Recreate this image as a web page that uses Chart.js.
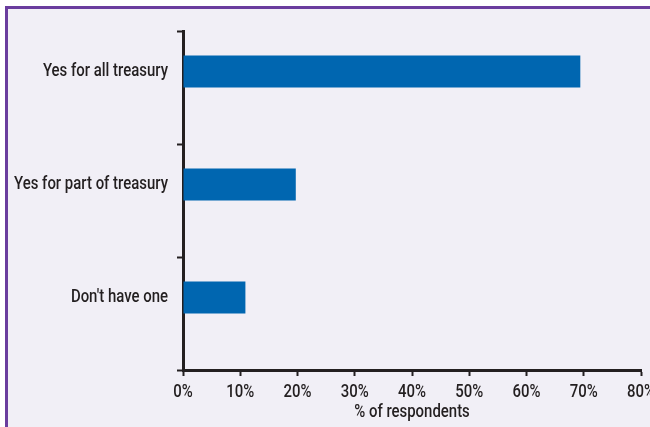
<!DOCTYPE html>
<html>
<head>
<meta charset="utf-8">
<script src="https://cdn.jsdelivr.net/npm/chart.js@4/dist/chart.umd.min.js"></script>
<style>
    html, body {
        margin: 0;
        padding: 0;
        background: #ffffff;
        overflow: hidden;
        width: 650px;
        height: 427px;
    }
    #frame {
        position: absolute;
        left: 5px;
        top: 6px;
        width: 700px;
        height: 460px;
        border-left: 3px solid #6a3d9e;
        border-top: 3px solid #6a3d9e;
        background: #f1eff6;
    }
    #myChart {
        position: absolute;
        left: 0;
        top: 0;
    }
</style>
</head>
<body>
<div id="frame">
    <canvas id="myChart" width="660" height="418"></canvas>
</div>
<script>
var categories = [
    "Yes for all treasury",
    "Yes for part of treasury",
    "Don't have one",
];
var respondents = [69.4, 19.7, 10.9];
var tickValues = [0, 10, 20, 30, 40, 50, 60, 70, 80];

var ink = "#231f20";
var font = {
    family: "Roboto, 'Liberation Sans', sans-serif",
    size: 18,
    weight: 500,
};
// squeeze text horizontally to get a condensed face
var textSqueeze = 0.83;
// bars and their labels sit a bit above the middle of each band
var barShift = -16;

var condensedText = {
    id: "condensedText",
    beforeDraw: function (chart) {
        var ctx = chart.ctx;
        if (ctx._plainFillText) return;
        ctx._plainFillText = ctx.fillText;
        ctx.fillText = function (text, x, y, maxWidth) {
            this.save();
            this.translate(x, y);
            this.scale(textSqueeze, 1);
            this._plainFillText(text, 0, 0);
            this.restore();
        };
    },
    afterLayout: function (chart) {
        // move the hidden bar axis so bars line up with the labels
        var s = chart.scales.yBars;
        s.top += barShift;
        s.bottom += barShift;
        s.configure();
    },
};

var data = {
    labels: categories,
    datasets: [
        {
            label: "% of respondents",
            data: respondents,
            yAxisID: "yBars",
            backgroundColor: "#0066b0",
            borderWidth: 0,
            categoryPercentage: 1,
            barPercentage: 0.284,
        },
    ],
};

//options
var options = {
    indexAxis: "y",
    responsive: false,
    animation: false,
    devicePixelRatio: 1,
    layout: {
        padding: { top: 22, left: 0, right: 27, bottom: 0 },
    },
    plugins: {
        legend: { display: false },
        tooltip: { enabled: false },
    },
    scales: {
        x: {
            min: 0,
            max: 80,
            afterBuildTicks: function (scale) {
                scale.ticks = tickValues.map(function (v) {
                    return { value: v };
                });
            },
            afterFit: function (scale) {
                scale.height = 57;
                scale.paddingLeft = 0;
                scale.paddingRight = 0;
            },
            ticks: {
                color: ink,
                font: font,
                padding: 6,
                callback: function (v) {
                    return v + "%";
                },
            },
            border: { display: true, color: ink, width: 3 },
            grid: {
                drawOnChartArea: false,
                drawTicks: true,
                tickLength: 6,
                tickWidth: 2,
                tickColor: ink,
            },
            title: {
                display: true,
                text: "% of respondents",
                color: ink,
                font: font,
                padding: { top: 0, bottom: 4 },
            },
        },
        y: {
            type: "category",
            afterFit: function (scale) {
                scale.width = 175;
            },
            ticks: {
                color: ink,
                font: font,
                padding: 9,
                labelOffset: barShift,
            },
            border: { display: true, color: ink, width: 3 },
            grid: {
                offset: true,
                drawOnChartArea: false,
                drawTicks: true,
                tickLength: 6,
                tickWidth: 2,
                tickColor: ink,
            },
        },
        yBars: {
            type: "category",
            display: false,
            offset: true,
        },
    },
};

//create Chart class object
var chart = new Chart(document.getElementById("myChart"), {
    type: "bar",
    data: data,
    options: options,
    plugins: [condensedText],
});
</script>
</body>
</html>
